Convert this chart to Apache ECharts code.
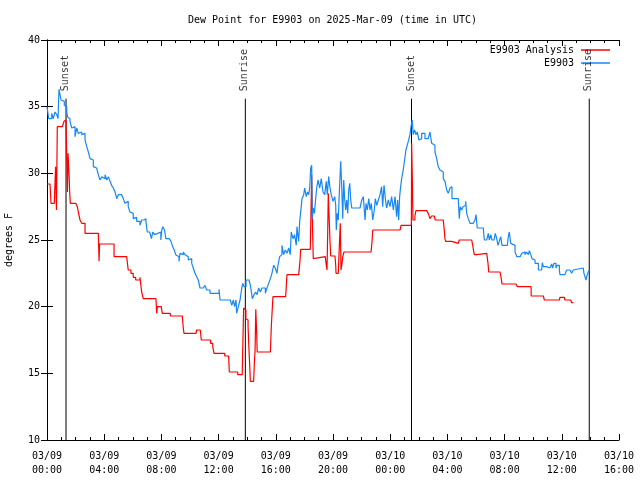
<!DOCTYPE html>
<html><head><meta charset="utf-8">
<script src="https://cdn.jsdelivr.net/npm/echarts@6/dist/echarts.min.js"></script>
<style>html,body{margin:0;padding:0;background:#fff}#c{width:640px;height:480px}</style>
</head><body><div id="c"></div>
<script>
// hours since 2025-03-09 00:00 UTC
const xTickLabels = ['03/09\n00:00','03/09\n04:00','03/09\n08:00','03/09\n12:00','03/09\n16:00','03/09\n20:00','03/10\n00:00','03/10\n04:00','03/10\n08:00','03/10\n12:00','03/10\n16:00'];
const eventTimes = [1.33, 13.87, 25.49, 37.92];
const eventNames = ['Sunset', 'Sunrise', 'Sunset', 'Sunrise'];

const obsT = [0.00,0.08,0.12,0.23,0.33,0.44,0.56,0.68,0.77,0.84,0.91,0.98,1.07,1.21,1.31,1.38,1.45,1.54,1.61,1.73,1.84,1.96,2.08,2.19,2.31,2.43,2.54,2.66,2.78,2.89,3.01,3.13,3.24,3.36,3.47,3.59,3.71,3.83,3.94,4.06,4.18,4.29,4.41,4.52,4.64,4.76,4.88,4.99,5.22,5.34,5.45,5.57,5.68,5.80,5.92,6.03,6.15,6.27,6.50,6.62,6.78,6.92,7.01,7.18,7.30,7.40,7.52,7.63,7.75,7.85,7.96,8.03,8.10,8.22,8.31,8.55,8.67,8.79,8.90,9.00,9.11,9.23,9.30,9.42,9.53,9.65,9.77,9.88,10.00,10.12,10.23,10.35,10.47,10.58,10.70,10.93,11.05,11.17,11.40,11.77,12.03,12.10,12.82,12.92,13.03,13.12,13.22,13.26,13.38,13.50,13.62,13.69,13.78,13.92,14.13,14.24,14.36,14.48,14.59,14.69,14.80,14.92,15.03,15.27,15.38,15.50,15.62,15.73,15.85,15.96,16.08,16.15,16.27,16.34,16.43,16.55,16.66,16.78,16.90,17.01,17.08,17.20,17.31,17.43,17.48,17.60,17.67,17.78,17.83,17.95,18.02,18.13,18.22,18.30,18.37,18.44,18.51,18.55,18.62,18.70,18.79,18.86,18.95,19.07,19.18,19.30,19.42,19.53,19.60,19.70,19.79,19.88,20.00,20.12,20.19,20.23,20.30,20.37,20.44,20.54,20.61,20.68,20.75,20.82,20.89,20.96,21.03,21.10,21.17,21.24,21.31,21.89,22.01,22.12,22.24,22.31,22.40,22.50,22.59,22.68,22.78,22.89,22.96,23.06,23.17,23.29,23.40,23.47,23.57,23.66,23.75,23.87,23.99,24.10,24.22,24.34,24.45,24.52,24.59,24.66,24.73,24.80,24.91,25.01,25.10,25.19,25.29,25.38,25.47,25.54,25.61,25.71,25.80,25.89,26.01,26.08,26.20,26.31,26.43,26.66,26.78,26.90,27.01,27.13,27.25,27.36,27.48,27.60,27.71,27.83,27.95,28.06,28.18,28.25,28.32,28.76,28.83,28.90,29.00,29.09,29.18,29.28,29.35,29.46,29.58,29.81,29.93,30.00,30.09,30.51,30.58,30.75,30.86,30.93,31.03,31.12,31.26,31.35,31.45,31.54,31.63,31.73,31.82,32.19,32.26,32.33,32.43,32.52,32.73,32.85,33.08,33.20,33.31,33.43,33.54,33.66,33.73,33.83,33.92,34.01,34.13,34.36,34.59,34.64,34.71,34.94,35.17,35.29,35.36,35.45,35.59,35.68,35.83,35.87,36.22,36.34,36.57,36.69,36.80,36.92,37.50,37.55,37.62,37.69,37.78,37.85,37.92];
const obsV = [35.0,35.0,34.1,34.1,34.5,34.1,34.6,34.4,34.1,36.3,35.9,35.5,35.4,35.1,35.0,34.6,34.2,34.1,33.9,33.4,33.5,32.75,33.4,33.0,33.1,32.9,33.0,32.5,32.0,31.6,31.1,31.0,30.5,30.4,30.25,29.9,29.5,29.75,29.6,29.9,29.5,29.75,29.4,29.1,28.9,28.6,28.1,28.4,28.4,28.1,27.75,27.9,27.5,27.1,27.0,26.6,26.7,26.4,26.1,26.5,26.6,26.4,25.6,25.6,25.1,25.6,25.4,25.5,25.4,25.6,25.0,25.75,26.0,25.75,25.1,25.1,24.9,24.5,24.25,23.9,23.75,23.4,24.0,23.9,24.1,23.9,23.75,23.5,23.6,23.25,22.9,22.5,22.25,22.0,21.4,21.3,21.6,21.25,21.0,21.0,21.3,20.5,20.5,20.1,20.5,20.0,20.5,19.5,20.0,20.5,21.4,21.75,21.5,22.0,22.0,21.5,20.6,20.9,21.1,20.9,21.4,21.1,21.4,21.0,21.4,21.75,22.1,22.5,23.1,22.9,22.5,23.1,23.75,23.9,24.6,23.9,24.25,24.0,24.4,23.9,25.6,25.1,25.4,24.6,26.0,24.9,26.4,27.5,28.1,28.4,28.9,28.25,28.6,28.4,28.9,30.4,30.6,26.6,27.4,27.0,28.1,28.9,29.5,28.9,29.6,28.6,28.4,29.4,28.4,29.75,28.9,28.4,27.9,28.25,27.6,25.75,27.0,26.5,28.5,30.9,29.0,26.6,29.5,28.0,27.25,28.0,27.0,28.75,29.25,28.0,27.4,27.4,28.0,28.25,26.5,27.75,27.25,28.1,27.25,27.75,26.5,27.25,28.1,27.6,28.0,28.4,29.0,27.5,29.1,28.1,27.4,28.0,27.5,28.25,27.25,28.25,26.75,28.0,26.5,28.25,29.0,29.6,30.25,31.0,31.75,32.1,32.5,32.9,33.6,34.0,32.9,33.25,32.9,33.1,32.5,32.6,33.0,33.0,32.6,32.6,33.1,32.25,32.1,31.6,31.1,30.5,30.25,30.1,29.6,29.4,28.75,28.5,28.9,29.0,28.1,28.1,26.6,27.5,27.25,27.5,27.6,27.9,27.0,26.6,26.25,26.25,26.5,26.9,25.9,25.9,25.0,25.0,25.5,25.0,25.4,25.0,25.1,25.5,25.1,24.6,24.9,25.25,24.6,24.6,25.25,25.6,24.75,24.6,24.1,23.75,23.75,24.0,24.1,23.9,24.1,23.9,24.2,23.9,23.6,23.5,23.25,22.75,22.75,23.3,23.0,22.9,22.9,23.2,22.9,23.25,22.9,23.1,22.75,22.4,22.4,22.75,22.75,22.5,22.75,22.9,22.9,22.5,22.25,22.0,22.4,22.6,22.75];

const anaT = [0.00,0.21,0.28,0.51,0.60,0.66,0.72,1.07,1.19,1.26,1.33,1.38,1.43,1.47,1.54,1.59,1.63,2.01,2.12,2.19,2.31,2.43,2.66,3.59,3.64,3.68,4.55,4.69,5.57,5.68,5.87,6.03,6.20,6.50,6.62,6.73,7.62,7.67,7.72,7.99,8.06,8.62,9.46,9.53,9.58,10.42,10.47,10.72,10.79,11.30,11.44,11.59,11.68,12.22,12.43,12.70,12.75,13.34,13.65,13.70,13.75,13.83,13.91,14.00,14.06,14.13,14.17,14.22,14.45,14.50,14.55,14.60,14.66,14.70,15.62,15.69,15.80,16.69,16.78,17.60,17.69,17.74,18.41,18.46,18.51,18.55,18.62,18.72,19.46,19.53,19.58,19.63,19.67,19.72,19.79,19.84,20.14,20.19,20.21,20.37,20.44,20.51,20.56,20.63,20.68,20.77,22.66,22.73,22.78,24.69,24.76,25.48,25.50,25.55,25.59,25.66,25.73,25.80,26.55,26.66,26.78,26.90,27.08,27.15,27.71,27.76,27.83,27.88,28.30,28.37,28.76,28.83,29.70,29.77,29.88,30.05,30.75,30.84,30.89,31.68,31.75,31.82,32.80,32.89,33.85,33.86,34.71,34.78,35.83,35.87,36.18,36.22,36.62,36.69,36.80];
const anaV = [29.2,29.2,27.75,27.75,30.5,27.25,33.5,33.5,33.9,34.0,33.8,31.2,28.6,31.5,30.0,28.5,27.75,27.75,27.5,27.1,26.5,26.25,25.5,25.5,23.4,24.7,24.7,23.75,23.75,22.75,22.5,22.2,22.0,22.2,21.1,20.6,20.6,19.5,20.0,19.9,19.5,19.3,19.3,18.4,18.0,18.0,18.25,18.25,17.5,17.5,17.25,17.0,16.5,16.5,16.3,16.3,15.1,14.9,14.9,17.4,19.9,19.75,19.1,19.0,18.5,16.6,15.75,14.4,14.3,15.75,16.7,19.8,18.1,16.6,16.6,18.6,20.75,20.75,22.4,22.4,23.4,24.3,24.3,27.1,29.9,26.9,23.6,23.75,23.75,23.1,22.75,25.6,28.5,27.0,24.9,23.8,23.8,23.1,22.5,22.5,24.5,26.25,22.75,23.25,23.75,24.1,24.05,24.9,25.75,25.7,26.1,26.2,32.25,29.5,26.5,26.5,26.8,27.2,27.25,27.0,26.6,26.8,26.8,26.5,26.5,26.0,25.1,24.9,24.9,24.75,24.75,25.0,25.0,24.6,23.9,24.0,24.0,23.25,22.6,22.7,22.2,21.7,21.7,21.5,21.5,20.8,20.8,20.5,20.5,20.7,20.7,20.5,20.5,20.3,20.3];

const FONT = 'DejaVu Sans Mono';
const lineTop = 35.6;
const zip = (a, b) => a.map((t, i) => [t, b[i]]);

const chart = echarts.init(document.getElementById('c'), null, {renderer: 'canvas'});

const series = [
  {name: 'E9903 Analysis', type: 'line', step: 'end', data: zip(anaT, anaV), showSymbol: false, symbol: 'none',
   lineStyle: {color: '#ff0000', width: 1.2}, itemStyle: {color: '#ff0000'}, z: 3, animation: false},
  {name: 'E9903', type: 'line', step: 'end', data: zip(obsT, obsV), showSymbol: false, symbol: 'none',
   lineStyle: {color: '#1688f5', width: 1.2}, itemStyle: {color: '#1688f5'}, z: 4, animation: false}
];
eventTimes.forEach((t, i) => {
  series.push({type: 'line', data: [[t, 10], [t, lineTop]], showSymbol: false, symbol: 'none', silent: true,
    lineStyle: {color: '#000', width: 1}, z: 2, animation: false});
  series.push({type: 'scatter', data: [[t, lineTop]], symbolSize: 1, silent: true, itemStyle: {color: 'rgba(0,0,0,0)'},
    label: {show: true, formatter: eventNames[i], position: [0, -7], rotate: 90, align: 'left', verticalAlign: 'middle',
      fontFamily: FONT, fontSize: 10, color: '#000'}, z: 5, animation: false});
});

const xBase = {
  type: 'value', min: 0, max: 40, interval: 4,
  axisLine: {lineStyle: {color: '#000', width: 1}},
  axisTick: {inside: true, length: 6, lineStyle: {color: '#000'}},
  minorTick: {show: true, splitNumber: 4, length: 3, lineStyle: {color: '#000'}},
  splitLine: {show: false}, minorSplitLine: {show: false}
};
const yBase = {
  type: 'value', min: 10, max: 40, interval: 5,
  axisLine: {show: true, lineStyle: {color: '#000', width: 1}},
  axisTick: {show: true, inside: true, length: 6, lineStyle: {color: '#000'}},
  splitLine: {show: false}
};

chart.setOption({
  animation: false,
  backgroundColor: '#fff',
  title: {text: 'Dew Point for E9903 on 2025-Mar-09 (time in UTC)', left: 188, top: 15, padding: 0,
    textStyle: {fontFamily: FONT, fontSize: 10, fontWeight: 'normal', color: '#000'}},
  legend: {data: ['E9903 Analysis', 'E9903'], orient: 'vertical', right: 30, top: 45, align: 'right', padding: 0,
    icon: 'rect', itemWidth: 29, itemHeight: 1.5, itemGap: 3,
    textStyle: {fontFamily: FONT, fontSize: 10, color: '#000', padding: [0, 2, 0, 0]}},
  grid: {left: 47, right: 21, top: 40, bottom: 40, containLabel: false, outerBoundsMode: 'none'},
  xAxis: [
    Object.assign({}, xBase, {position: 'bottom',
      axisLabel: {formatter: v => xTickLabels[Math.round(v / 4)], fontFamily: FONT, fontSize: 10, color: '#000', lineHeight: 14, margin: 9}}),
    Object.assign({}, xBase, {position: 'top', axisLabel: {show: false}})
  ],
  yAxis: [
    Object.assign({}, yBase, {position: 'left', name: 'degrees F', nameLocation: 'middle', nameGap: 33, nameRotate: 90,
      nameTextStyle: {fontFamily: FONT, fontSize: 10, color: '#000'},
      axisLabel: {fontFamily: FONT, fontSize: 10, color: '#000', margin: 7}}),
    Object.assign({}, yBase, {position: 'right', axisLabel: {show: false}})
  ],
  series: series
});
</script></body></html>
